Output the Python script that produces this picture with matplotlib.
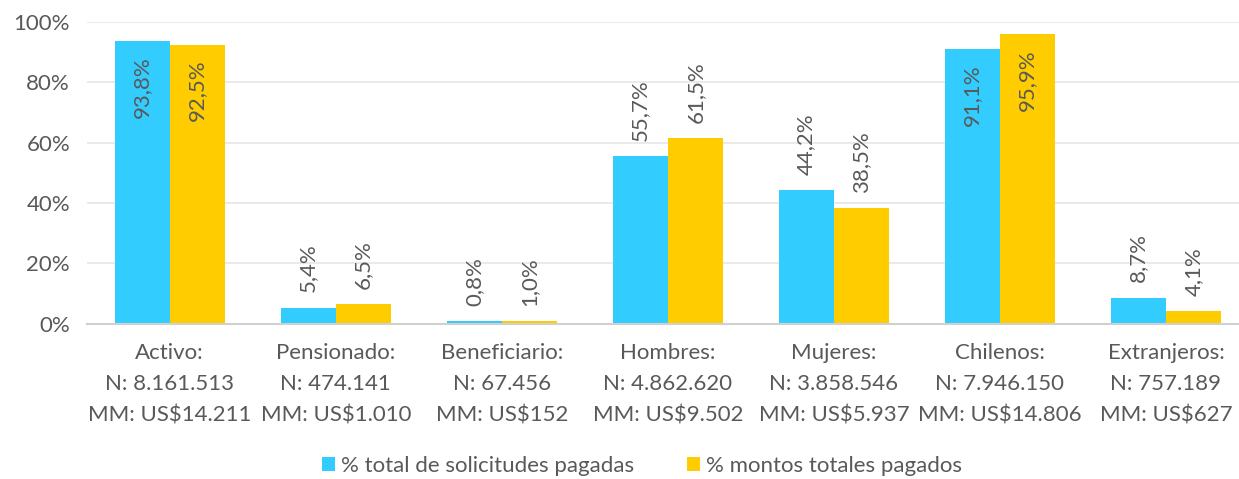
import matplotlib.pyplot as plt
import numpy as np

categorias = ["Activo:\nN: 8.161.513\nMM: US$14.211",
              "Pensionado:\nN: 474.141\nMM: US$1.010",
              "Beneficiario:\nN: 67.456\nMM: US$152",
              "Hombres:\nN: 4.862.620\nMM: US$9.502",
              "Mujeres:\nN: 3.858.546\nMM: US$5.937",
              "Chilenos:\nN: 7.946.150\nMM: US$14.806",
              "Extranjeros:\nN: 757.189\nMM: US$627"]
solicitudes = [93.8, 5.4, 0.8, 55.7, 44.2, 91.1, 8.7]
montos = [92.5, 6.5, 1.0, 61.5, 38.5, 95.9, 4.1]

azul = "#33CCFF"
amarillo = "#FFCC00"
gris = "#595959"

plt.rcParams['font.family'] = ['Lato', 'DejaVu Sans']
fs = 16

fig = plt.figure(figsize=(12.39, 4.79), dpi=100)
ax = fig.add_axes([0.070, 0.324, 0.938, 0.630])

x = np.arange(len(categorias))
w = 0.332
b1 = ax.bar(x - w / 2, solicitudes, w, color=azul, label="% total de solicitudes pagadas")
b2 = ax.bar(x + w / 2, montos, w, color=amarillo, label="% montos totales pagados")


def etiquetas(barras, valores):
    for rect, v in zip(barras, valores):
        cx = rect.get_x() + rect.get_width() / 2
        txt = f"{v:.1f}%".replace(".", ",")
        if v > 80:
            ax.text(cx, v - 5, txt, rotation=90, ha="center", va="top",
                    fontsize=fs, color=gris)
        else:
            ax.text(cx, v + 5, txt, rotation=90, ha="center", va="bottom",
                    fontsize=fs, color=gris)


etiquetas(b1, solicitudes)
etiquetas(b2, montos)

ax.set_xlim(-0.5, len(categorias) - 0.5)
ax.set_ylim(0, 100)
ax.set_yticks(range(0, 101, 20))
ax.set_yticklabels([f"{v}%" for v in range(0, 101, 20)])
ax.set_xticks(x)
ax.set_xticklabels(categorias, linespacing=1.7)
ax.tick_params(axis="both", length=0, labelsize=fs, colors=gris)
ax.tick_params(axis="x", pad=14)
ax.tick_params(axis="y", pad=12)
ax.grid(axis="y", color="#E6E6E6", linewidth=1.2)
ax.set_axisbelow(True)
for s in ["top", "right", "left"]:
    ax.spines[s].set_visible(False)
ax.spines["bottom"].set_color("#D0D0D0")
ax.spines["bottom"].set_linewidth(1.5)

leg = fig.legend(loc="center", bbox_to_anchor=(0.518, 0.027), ncol=2, frameon=False,
                 fontsize=fs, handlelength=0.6, handleheight=0.6, handletextpad=0.25,
                 columnspacing=2.4)
for t in leg.get_texts():
    t.set_color(gris)

fig.savefig("out.png", dpi=100)
